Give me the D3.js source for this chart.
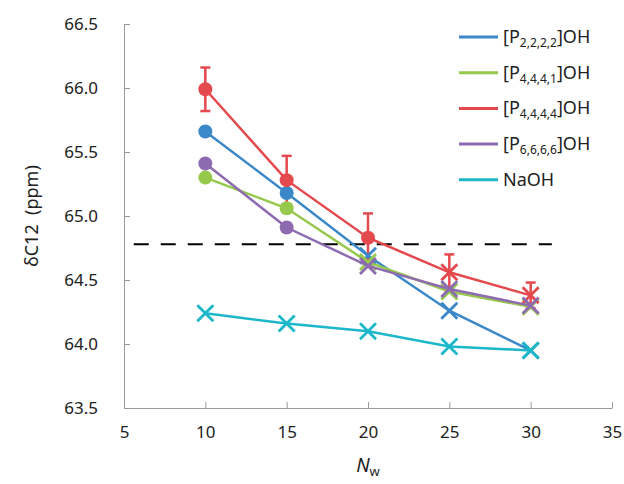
<html>
<head>
<meta charset="utf-8">
<script src="https://d3js.org/d3.v7.min.js"></script>
<style>
body {margin:0; background:#fff;}
text {font-family: "Noto Sans", sans-serif; fill:#222;}
</style>
</head>
<body>
<svg id="chart" width="624" height="484"></svg>
<script>
// data
var nw = [10, 15, 20, 25, 30];
var p2222 = [65.66, 65.18, 64.69, 64.26, 63.95];
var p4441 = [65.30, 65.06, 64.64, 64.41, 64.29];
var p4444 = [65.99, 65.28, 64.83, 64.56, 64.38];
var p4444err = [0.17, 0.19, 0.19, 0.14, 0.10];
var p6666 = [65.41, 64.91, 64.61, 64.43, 64.30];
var naoh = [64.24, 64.16, 64.10, 63.98, 63.95];
var refLine = 64.78;
var xTicks = [5, 10, 15, 20, 25, 30, 35];
var yTicks = [63.5, 64.0, 64.5, 65.0, 65.5, 66.0, 66.5];

// marker type per point: c = circle, x = cross
var series = [
  {name:"P", sub:"2,2,2,2", vals:p2222, color:"#3b88c9", marks:["c","c","x","x","x"]},
  {name:"P", sub:"4,4,4,1", vals:p4441, color:"#95c84b", marks:["c","c","x","x","x"]},
  {name:"P", sub:"4,4,4,4", vals:p4444, color:"#e4494e", marks:["c","c","c","x","x"]},
  {name:"P", sub:"6,6,6,6", vals:p6666, color:"#8e6bb1", marks:["c","c","x","x","x"]},
  {name:"NaOH", sub:null, vals:naoh, color:"#1cb8c9", marks:["x","x","x","x","x"]}
];

var svg = d3.select("#chart");
var x = d3.scaleLinear().domain([5, 35]).range([124, 612]);
var y = d3.scaleLinear().domain([63.5, 66.5]).range([408, 24]);

// axes
var axisColor = "#9a9a9a";
var gx = svg.append("g").attr("transform", "translate(0,408)")
  .call(d3.axisBottom(x).tickValues(xTicks).tickSizeInner(-6).tickSizeOuter(0).tickPadding(18).tickFormat(d3.format("d")));
gx.select(".domain").attr("stroke", axisColor);
gx.selectAll(".tick line").attr("stroke", axisColor);
gx.selectAll("text").style("font-size", "17px").attr("fill", "#222");

var gy = svg.append("g").attr("transform", "translate(124,0)")
  .call(d3.axisLeft(y).tickValues(yTicks).tickSizeInner(-6).tickSizeOuter(0).tickPadding(26).tickFormat(d3.format(".1f")));
gy.select(".domain").attr("stroke", axisColor);
gy.selectAll(".tick line").attr("stroke", axisColor);
gy.selectAll("text").style("font-size", "17px").attr("fill", "#222");

// axis titles
svg.append("text")
  .attr("transform", "translate(38," + y(65.0) + ") rotate(-90)")
  .attr("text-anchor", "middle")
  .attr("xml:space", "preserve")
  .style("font-size", "18px")
  .style("white-space", "pre")
  .text("δC12\u00a0\u00a0(ppm)");

var xt = svg.append("text")
  .attr("x", 368).attr("y", 472)
  .attr("text-anchor", "middle")
  .style("font-size", "19px");
xt.append("tspan").style("font-style", "italic").text("N");
xt.append("tspan").attr("dy", 4).style("font-size", "13px").text("w");

// reference dashed line
svg.append("line")
  .attr("x1", x(5.6)).attr("x2", x(31.3))
  .attr("y1", y(refLine)).attr("y2", y(refLine))
  .attr("stroke", "#000").attr("stroke-width", 2)
  .attr("stroke-dasharray", "15,12");

// error bars for [P4444]OH
var red = series[2];
var eb = svg.append("g").attr("stroke", red.color).attr("stroke-width", 2.5);
nw.forEach(function(n, i) {
  var v = p4444[i], e = p4444err[i];
  eb.append("line").attr("x1", x(n)).attr("x2", x(n)).attr("y1", y(v + e)).attr("y2", y(v - e));
  eb.append("line").attr("x1", x(n) - 5).attr("x2", x(n) + 5).attr("y1", y(v + e)).attr("y2", y(v + e));
  eb.append("line").attr("x1", x(n) - 5).attr("x2", x(n) + 5).attr("y1", y(v - e)).attr("y2", y(v - e));
});

// series
var line = d3.line().x(function(d) { return x(d[0]); }).y(function(d) { return y(d[1]); });
series.forEach(function(s) {
  var pts = nw.map(function(n, i) { return [n, s.vals[i], s.marks[i]]; });
  var g = svg.append("g");
  g.append("path").datum(pts).attr("d", line)
    .attr("fill", "none").attr("stroke", s.color).attr("stroke-width", 2.5);
  pts.forEach(function(p) {
    var cx = x(p[0]), cy = y(p[1]);
    if (p[2] === "c") {
      g.append("circle").attr("cx", cx).attr("cy", cy).attr("r", 7).attr("fill", s.color);
    } else {
      var k = 8;
      g.append("path")
        .attr("d", "M" + (cx - k) + "," + (cy - k) + "L" + (cx + k) + "," + (cy + k) +
                   "M" + (cx - k) + "," + (cy + k) + "L" + (cx + k) + "," + (cy - k))
        .attr("stroke", s.color).attr("stroke-width", 2.8).attr("fill", "none");
    }
  });
});

// legend
var leg = svg.append("g");
series.forEach(function(s, i) {
  var ly = 37 + i * 35.7;
  leg.append("line").attr("x1", 459).attr("x2", 498).attr("y1", ly).attr("y2", ly)
    .attr("stroke", s.color).attr("stroke-width", 3);
  var t = leg.append("text").attr("x", 503).attr("y", ly + 6).style("font-size", "18px");
  if (s.sub) {
    t.append("tspan").text("[" + s.name);
    t.append("tspan").attr("dy", 4).style("font-size", "12px").text(s.sub);
    t.append("tspan").attr("dy", -4).text("]OH");
  } else {
    t.text(s.name);
  }
});
</script>
</body>
</html>
